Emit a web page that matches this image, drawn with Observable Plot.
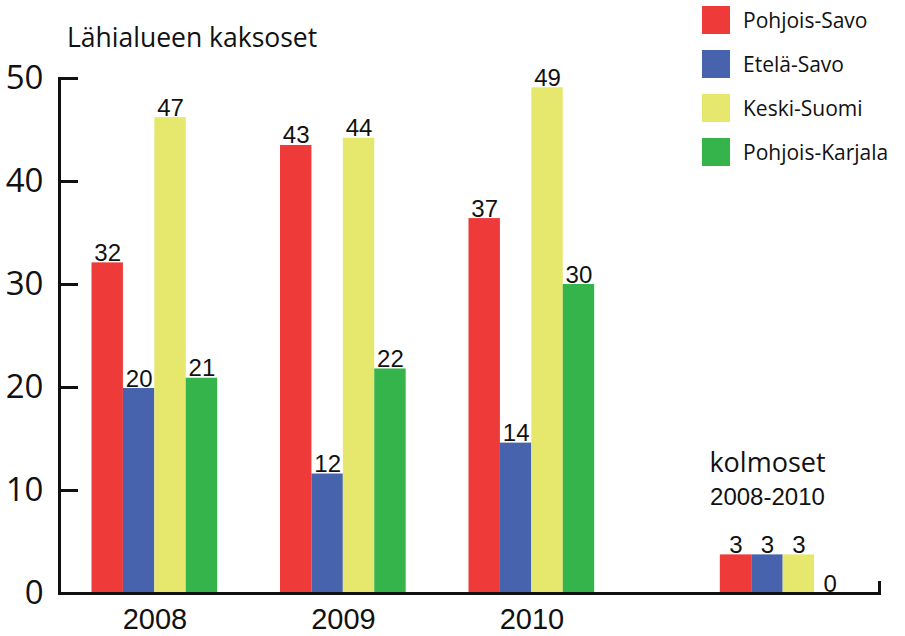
<!DOCTYPE html>
<html><head><meta charset="utf-8">
<script src="https://cdn.jsdelivr.net/npm/d3@7"></script>
<script src="https://cdn.jsdelivr.net/npm/@observablehq/plot@0.6"></script>
<style>
body{margin:0;background:#fff;}
#wrap{position:relative;width:905px;height:636px;overflow:hidden;}
#title{position:absolute;left:67px;top:19px;font:26.5px "Open Sans",sans-serif;color:#111;white-space:nowrap;}
#legend{position:absolute;left:702px;top:6px;}
#legend .lg-swatches{font-size:21px !important;font-family:"Open Sans",sans-serif !important;color:#111 !important;margin:0 !important;}
#legend .lg-swatch{margin:0 0 16px 0 !important;padding:0 !important;display:flex;align-items:center;}
#legend .lg-swatch svg{margin-right:13px !important;}
#chart{position:absolute;left:0;top:0;}
</style></head><body>
<div id="wrap"><div id="chart"></div><div id="title">Lähialueen kaksoset</div><div id="legend"></div></div>
<script>
const years = ["2008", "2009", "2010"];
const regions = ["Pohjois-Savo", "Etelä-Savo", "Keski-Suomi", "Pohjois-Karjala"];
const colors = ["#ee3a39", "#4763ae", "#e6e86e", "#34b44a"];
const pohjoisSavo = [32.1, 43.5, 36.4];
const etelaSavo = [19.9, 11.6, 14.6];
const keskiSuomi = [46.2, 44.2, 49.1];
const pohjoisKarjala = [20.9, 21.8, 30.0];
const pohjoisSavoLabels = ["32", "43", "37"];
const etelaSavoLabels = ["20", "12", "14"];
const keskiSuomiLabels = ["47", "44", "49"];
const pohjoisKarjalaLabels = ["21", "22", "30"];
const kolmosetGroup = "kolmoset";
const kolmosetTitle = ["kolmoset", "2008-2010"];
const kolmoset = [3.75, 3.75, 3.75, 0];
const kolmosetLabels = ["3", "3", "3", "0"];
const yTicks = [0, 10, 20, 30, 40, 50];

const seriesValues = [pohjoisSavo, etelaSavo, keskiSuomi, pohjoisKarjala];
const seriesLabels = [pohjoisSavoLabels, etelaSavoLabels, keskiSuomiLabels, pohjoisKarjalaLabels];
const data = [];
years.forEach((yr, i) => regions.forEach((r, j) => data.push({group: yr, region: r, value: seriesValues[j][i], label: seriesLabels[j][i]})));
regions.forEach((r, j) => data.push({group: kolmosetGroup, region: r, value: kolmoset[j], label: kolmosetLabels[j]}));
const slot = (g, r) => g + "|" + r;
data.forEach(d => d.slot = slot(d.group, d.region));

// slot domain with spacer slots between groups
const groups = [...years, kolmosetGroup];
const spacers = [2, 2, 4];
const domain = [];
groups.forEach((g, i) => {
  regions.forEach(r => domain.push(slot(g, r)));
  if (i < spacers.length) for (let k = 0; k < spacers[i]; k++) domain.push("gap" + i + "_" + k);
});

const chart = Plot.plot({
  width: 905, height: 636,
  marginLeft: 59, marginRight: 26, marginTop: 78, marginBottom: 43,
  x: {type: "band", domain, range: [91.5, 845.5], paddingInner: 0, paddingOuter: 0, round: false, axis: null},
  y: {domain: [0, 50], axis: null},
  color: {domain: regions, range: colors},
  style: {fontFamily: "'Open Sans', sans-serif", color: "#111"},
  marks: [
    Plot.barY(data, {x: "slot", y: "value", fill: "region"}),
    Plot.text(data, {x: "slot", y: "value", text: "label", lineAnchor: "bottom", dy: -2, fontSize: 24, fontFamily: "'Liberation Sans', Arial, sans-serif", fill: "#111"}),
    Plot.axisY({ticks: yTicks, tickSize: -19, tickPadding: 35, fontSize: 33, strokeWidth: 3, label: null, stroke: "#111"}),
    Plot.frame({anchor: "left", strokeWidth: 3, stroke: "#111"}),
    Plot.frame({anchor: "bottom", strokeWidth: 3, stroke: "#111"}),
    Plot.frame({anchor: "right", insetTop: 504, strokeWidth: 3, stroke: "#111"}),
    Plot.text(years, {x: d => slot(d, regions[1]), frameAnchor: "bottom", dx: 15.75, dy: 26, lineAnchor: "middle", fontSize: 29, fontFamily: "'Liberation Sans', Arial, sans-serif", fill: "#111"}),
    Plot.text([kolmosetTitle[0]], {x: () => slot(kolmosetGroup, regions[1]), frameAnchor: "bottom", dy: -130, lineAnchor: "middle", fontSize: 27, fill: "#111"}),
    Plot.text([kolmosetTitle[1]], {x: () => slot(kolmosetGroup, regions[1]), frameAnchor: "bottom", dy: -96, lineAnchor: "middle", fontSize: 24, fontFamily: "'Liberation Sans', Arial, sans-serif", fill: "#111"})
  ]
});
document.getElementById("chart").append(chart);

const legend = Plot.legend({color: {domain: regions, range: colors}, legend: "swatches", columns: 1, swatchSize: 28, className: "lg"});
document.getElementById("legend").append(legend);
</script>
</body></html>
